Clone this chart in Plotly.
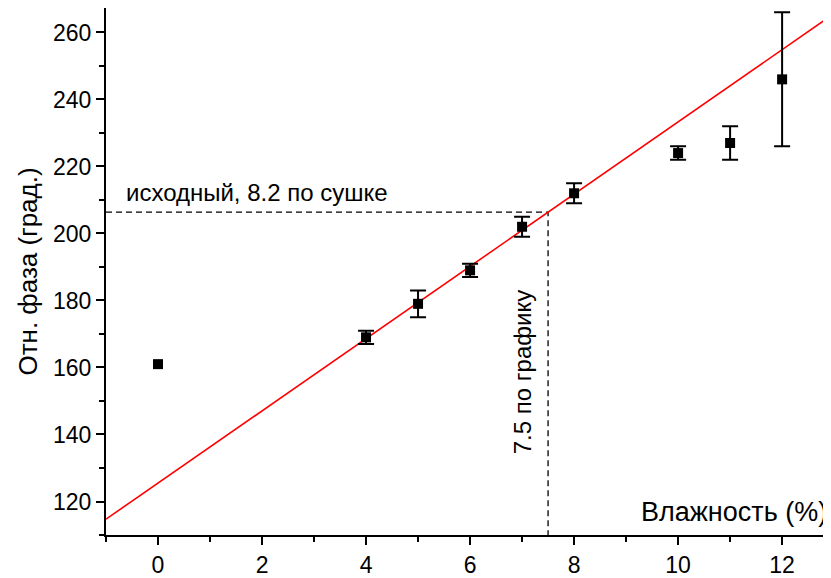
import plotly.graph_objects as go

# Data
humidity = [0, 4, 5, 6, 7, 8, 10, 11, 12]
phase = [161, 169, 179, 189, 202, 212, 224, 227, 246]
phase_err = [None, 2, 4, 2, 3, 3, 2, 5, 20]

fit_slope = 10.78
fit_intercept = 125.5
fit_x = [-1, 13]

x_graph = 7.5
label_top = "исходный, 8.2 по сушке"
label_vert = "7.5 по графику"

X_MIN, X_MAX = -1, 12.94
Y_MIN, Y_MAX = 110, 267.3

fit_y = [fit_intercept + fit_slope * x for x in fit_x]
y_cross = fit_intercept + fit_slope * x_graph

FONT = "Liberation Sans, Arial, sans-serif"

# split points with / without error bars
idx_err = [i for i, e in enumerate(phase_err) if e is not None]
idx_noerr = [i for i, e in enumerate(phase_err) if e is None]

fig = go.Figure()

fig.add_trace(go.Scatter(
    x=[X_MIN, x_graph, x_graph], y=[y_cross, y_cross, Y_MIN],
    mode="lines", line=dict(color="black", width=1.3, dash="6px,4px"),
    hoverinfo="skip", showlegend=False))

fig.add_trace(go.Scatter(
    x=fit_x, y=fit_y, mode="lines",
    line=dict(color="red", width=1.6), showlegend=False))

fig.add_trace(go.Scatter(
    x=[humidity[i] for i in idx_err], y=[phase[i] for i in idx_err],
    mode="markers",
    marker=dict(symbol="square", size=10, color="black"),
    error_y=dict(type="data", array=[phase_err[i] for i in idx_err],
                 color="black", thickness=2, width=8),
    showlegend=False))

fig.add_trace(go.Scatter(
    x=[humidity[i] for i in idx_noerr], y=[phase[i] for i in idx_noerr],
    mode="markers",
    marker=dict(symbol="square", size=10, color="black"),
    showlegend=False))

fig.add_annotation(x=X_MIN, y=y_cross, xref="x", yref="y",
                   text=label_top, showarrow=False,
                   xanchor="left", yanchor="middle", xshift=18, yshift=20,
                   font=dict(family=FONT, size=24, color="black"))
fig.add_annotation(x=x_graph, y=158.6, xref="x", yref="y",
                   text=label_vert, showarrow=False, textangle=-90,
                   xanchor="center", yanchor="middle", xshift=-26,
                   font=dict(family=FONT, size=24, color="black"))
fig.add_annotation(x=1, y=0, xref="paper", yref="paper",
                   text="Влажность (%)", showarrow=False,
                   xanchor="right", yanchor="middle", xshift=-2, yshift=23,
                   font=dict(family=FONT, size=27, color="black"))

axis_common = dict(
    showline=True, linecolor="black", linewidth=2,
    ticks="outside", ticklen=8, tickwidth=2, tickcolor="black",
    showgrid=False, zeroline=False, mirror=False,
    tickfont=dict(family=FONT, size=23, color="black"),
)

fig.update_layout(
    width=823, height=570,
    margin=dict(l=98, r=0, t=0, b=40),
    paper_bgcolor="white", plot_bgcolor="white",
    xaxis=dict(range=[X_MIN, X_MAX], dtick=2, tick0=0,
               minor=dict(dtick=1, ticklen=5, tickwidth=2, ticks="outside",
                          tickcolor="black"),
               **axis_common),
    yaxis=dict(range=[Y_MIN, Y_MAX], dtick=20, tick0=0,
               minor=dict(dtick=10, ticklen=5, tickwidth=2, ticks="outside",
                          tickcolor="black"),
               title=dict(text="Отн. фаза (град.)",
                          font=dict(family=FONT, size=26, color="black"),
                          standoff=8),
               **axis_common),
)

fig.write_html("out.html")
